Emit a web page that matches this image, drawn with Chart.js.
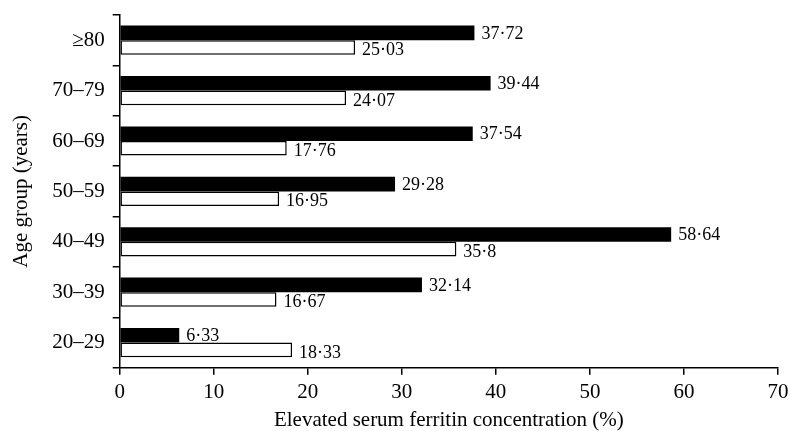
<!DOCTYPE html>
<html>
<head>
<meta charset="utf-8">
<script src="https://cdn.jsdelivr.net/npm/chart.js@4/dist/chart.umd.min.js"></script>
<style>
  html, body { margin: 0; padding: 0; background: #fff; }
</style>
</head>
<body>
<canvas id="barGraph1" width="790" height="431"></canvas>
<script>
// age groups, bottom to top as in the figure
var ageGroups = ['20–29', '30–39', '40–49', '50–59', '60–69', '70–79', '≥80'];
// filled bars
var blackValues = [6.33, 32.14, 58.64, 29.28, 37.54, 39.44, 37.72];
// open bars
var whiteValues = [18.33, 16.67, 35.8, 16.95, 17.76, 24.07, 25.03];
var xTicks = [0, 10, 20, 30, 40, 50, 60, 70];

var serif = "'Liberation Serif', 'Times New Roman', serif";

function fmt(v) {
	return String(v).replace('.', '·');
}

// value labels next to each bar end
var valueLabels = {
	id: 'valueLabels',
	afterDatasetsDraw: function(chart) {
		var ctx = chart.ctx;
		ctx.save();
		ctx.font = '18px ' + serif;
		ctx.fillStyle = '#000';
		ctx.textAlign = 'left';
		ctx.textBaseline = 'middle';
		chart.data.datasets.forEach(function(ds, di) {
			var meta = chart.getDatasetMeta(di);
			meta.data.forEach(function(bar, i) {
				var dy = di === 0 ? 1 : 3;
				ctx.fillText(fmt(ds.data[i]), bar.x + 7, bar.y + dy);
			});
		});
		ctx.restore();
	}
};

var chartdata = {
	labels: ageGroups,
	datasets: [{
		label: 'black',
		backgroundColor: '#000',
		borderColor: '#000',
		borderWidth: 0,
		data: blackValues
	}, {
		label: 'white',
		backgroundColor: '#fff',
		borderColor: '#000',
		borderWidth: 1.5,
		data: whiteValues
	}]
};

var ctx = document.getElementById('barGraph1');

var barGraph = new Chart(ctx, {
	type: 'bar',
	data: chartdata,
	plugins: [valueLabels],
	options: {
		responsive: false,
		animation: false,
		indexAxis: 'y',
		layout: { padding: { top: 15, right: 12, left: 9, bottom: 0 } },
		datasets: {
			bar: { barPercentage: 1, categoryPercentage: 0.58, borderSkipped: false }
		},
		plugins: {
			legend: { display: false },
			tooltip: { enabled: false }
		},
		scales: {
			x: {
				min: 0,
				max: 70,
				afterBuildTicks: function(scale) {
					scale.ticks = xTicks.map(function(v) { return { value: v }; });
				},
				afterFit: function(scale) {
					scale.paddingRight = 0;
				},
				grid: { drawOnChartArea: false, tickLength: 7, color: '#000', lineWidth: 1.5 },
				border: { color: '#000', width: 1.5 },
				ticks: { color: '#000', font: { family: serif, size: 21 }, padding: 5, maxRotation: 0 },
				title: {
					display: true,
					text: 'Elevated serum ferritin concentration (%)',
					color: '#000',
					font: { family: serif, size: 21, lineHeight: 1.0 },
					padding: { top: 0, bottom: 0 }
				}
			},
			y: {
				reverse: true,
				offset: true,
				afterFit: function(scale) {
					scale.paddingTop = 0;
					scale.paddingBottom = 0;
				},
				grid: { offset: true, drawOnChartArea: false, tickLength: 7, color: '#000', lineWidth: 1.5 },
				border: { color: '#000', width: 1.5 },
				ticks: { color: '#000', font: { family: serif, size: 21 }, padding: 8 },
				title: {
					display: true,
					text: 'Age group (years)',
					color: '#000',
					font: { family: serif, size: 21 },
					padding: { top: 0, bottom: 10 }
				}
			}
		}
	}
});
</script>
</body>
</html>
